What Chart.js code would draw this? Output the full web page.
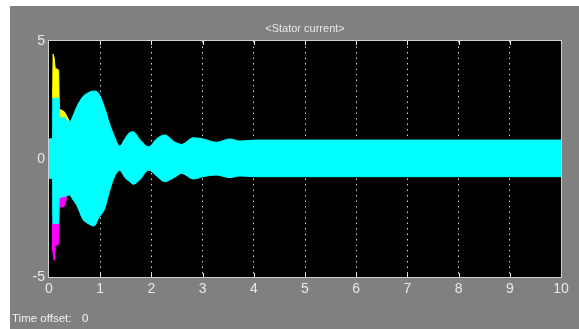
<!DOCTYPE html>
<html>
<head>
<meta charset="utf-8">
<script src="https://cdn.jsdelivr.net/npm/chart.js@4"></script>
<style>
  html, body { margin: 0; padding: 0; background: #fff; }
  #wrap { width: 579px; height: 329px; }
</style>
</head>
<body>
<div id="wrap"><canvas id="scope" width="579" height="329"></canvas></div>
<script>
// envelope of the stator current
const tCyan = [0, 0.07, 0.075, 0.19, 0.2, 0.3, 0.4, 0.475, 0.54, 0.66, 0.76, 0.88, 0.97, 1.09, 1.18, 1.28, 1.38, 1.48, 1.57, 1.65, 1.77, 1.95, 2.1, 2.26, 2.45, 2.59, 2.82, 3.01, 3.27, 3.53, 3.73, 4.0, 10];
const cyanHi = [0.85, 0.9, 2.57, 2.57, 1.75, 1.75, 1.58, 1.86, 2.2, 2.64, 2.8, 2.88, 2.78, 2.15, 1.52, 0.95, 0.55, 0.85, 1.11, 1.15, 0.84, 0.52, 0.85, 1.02, 0.73, 0.62, 0.9, 0.85, 0.71, 0.85, 0.76, 0.8, 0.8];
const cyanLo = [-0.82, -0.82, -2.73, -2.73, -1.67, -1.6, -1.53, -1.75, -1.95, -2.55, -2.73, -2.84, -2.5, -2.09, -1.38, -0.75, -0.49, -0.78, -0.95, -1.07, -0.89, -0.47, -0.72, -0.96, -0.78, -0.61, -0.85, -0.75, -0.68, -0.79, -0.72, -0.75, -0.75];

const tYellow = [0.07, 0.08, 0.1, 0.12, 0.19, 0.2, 0.3, 0.4];
const yellowHi = [2.57, 4.45, 4.3, 3.85, 3.77, 2.12, 2.0, 1.6];

const tMagenta = [0.07, 0.075, 0.095, 0.115, 0.12, 0.19, 0.2, 0.3, 0.35];
const magentaLo = [-2.73, -3.9, -4.28, -4.28, -3.7, -3.6, -2.05, -2.0, -1.6];

const xTicks = [0, 1, 2, 3, 4, 5, 6, 7, 8, 9, 10];
const yTicks = [-5, 0, 5];

const pts = (xs, ys) => xs.map((x, i) => ({ x: x, y: ys[i] }));

const scopeFrame = {
    id: 'scopeFrame',
    beforeDraw(chart) {
        const c = chart.ctx, a = chart.chartArea;
        c.save();
        c.fillStyle = '#ffffff';
        c.fillRect(0, 0, chart.width, chart.height);
        c.fillStyle = '#808080';
        c.fillRect(10, 6, chart.width - 10, chart.height - 6);
        c.fillStyle = '#000000';
        c.fillRect(a.left, a.top, a.right - a.left, a.bottom - a.top);
        c.restore();
    },
    afterDraw(chart) {
        const c = chart.ctx, a = chart.chartArea, xs = chart.scales.x;
        c.save();
        c.strokeStyle = '#d0d0d0';
        c.lineWidth = 1;
        c.strokeRect(a.left - 0.5, a.top - 0.5, a.right - a.left + 1, a.bottom - a.top + 1);
        c.strokeStyle = '#e8e8e8';
        xTicks.slice(1, -1).forEach(v => {
            const px = Math.round(xs.getPixelForValue(v)) + 0.5;
            c.beginPath();
            c.moveTo(px, a.top); c.lineTo(px, a.top + 4);
            c.moveTo(px, a.bottom); c.lineTo(px, a.bottom - 4);
            c.stroke();
        });
        c.fillStyle = '#e8e8e8';
        c.font = '11px "Liberation Sans", Arial, sans-serif';
        c.textAlign = 'center';
        c.textBaseline = 'middle';
        c.fillText('<Stator current>', (a.left + a.right) / 2, 29);
        c.fillStyle = '#f2f2f2';
        c.font = '11.5px "Liberation Sans", Arial, sans-serif';
        c.textAlign = 'left';
        c.fillText('Time offset:', 12, 319);
        c.fillText('0', 82, 319);
        c.restore();
    }
};

const ctx = document.getElementById('scope').getContext('2d');
new Chart(ctx, {
    type: 'line',
    data: {
        datasets: [
            {
                label: 'cyanHi',
                data: pts(tCyan, cyanHi),
                borderColor: '#00ffff',
                backgroundColor: '#00ffff',
                borderWidth: 1,
                pointRadius: 0,
                cubicInterpolationMode: 'monotone',
                fill: '+1',
                order: 1
            },
            {
                label: 'cyanLo',
                data: pts(tCyan, cyanLo),
                borderColor: '#00ffff',
                borderWidth: 1,
                pointRadius: 0,
                cubicInterpolationMode: 'monotone',
                fill: false,
                order: 1
            },
            {
                label: 'yellow',
                data: pts(tYellow, yellowHi),
                borderColor: '#ffff00',
                backgroundColor: '#ffff00',
                borderWidth: 1,
                pointRadius: 0,
                fill: 'origin',
                order: 2
            },
            {
                label: 'magenta',
                data: pts(tMagenta, magentaLo),
                borderColor: '#ff00ff',
                backgroundColor: '#ff00ff',
                borderWidth: 1,
                pointRadius: 0,
                fill: 'origin',
                order: 2
            }
        ]
    },
    options: {
        responsive: false,
        animation: false,
        events: [],
        layout: { padding: { left: 10, right: 18, top: 41, bottom: 0 } },
        elements: { line: { tension: 0 } },
        plugins: {
            legend: { display: false },
            title: { display: false },
            tooltip: { enabled: false }
        },
        scales: {
            x: {
                type: 'linear',
                min: 0,
                max: 10,
                afterBuildTicks(s) { s.ticks = xTicks.map(v => ({ value: v })); },
                afterFit(s) { s.height = 52; },
                ticks: {
                    color: '#e8e8e8',
                    padding: 4,
                    maxRotation: 0,
                    font: { family: '"Liberation Sans Narrow", "Liberation Sans", sans-serif', size: 14 }
                },
                grid: {
                    drawTicks: false,
                    color: ctx => (ctx.tick && (ctx.tick.value === 0 || ctx.tick.value === 10)) ? 'rgba(0,0,0,0)' : 'rgba(235,235,235,0.9)',
                    lineWidth: 1
                },
                border: { display: false, dash: [1.5, 4] }
            },
            y: {
                min: -5,
                max: 5,
                afterBuildTicks(s) { s.ticks = yTicks.map(v => ({ value: v })); },
                afterFit(s) { s.width = 39; },
                ticks: {
                    color: '#e8e8e8',
                    padding: 4,
                    font: { family: '"Liberation Sans Narrow", "Liberation Sans", sans-serif', size: 14 }
                },
                grid: {
                    drawTicks: false,
                    color: ctx => (ctx.tick && ctx.tick.value === 0) ? 'rgba(235,235,235,0.9)' : 'rgba(0,0,0,0)'
                },
                border: { display: false, dash: [1.5, 4] }
            }
        }
    },
    plugins: [scopeFrame]
});
</script>
</body>
</html>
